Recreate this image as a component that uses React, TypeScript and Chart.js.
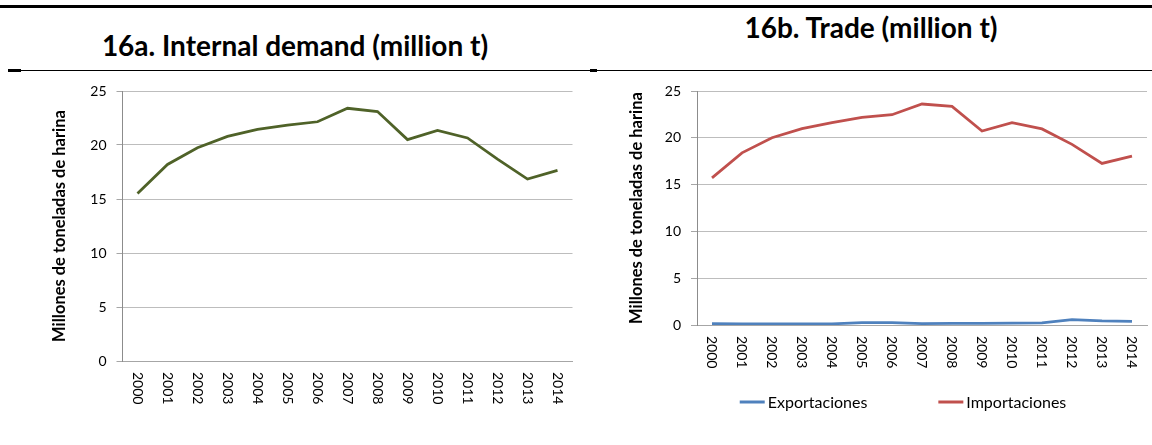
import React, { useEffect, useRef } from 'react';
import { Chart, registerables } from 'chart.js';

Chart.register(...registerables);

// ---------- data ----------
const years = ['2000', '2001', '2002', '2003', '2004', '2005', '2006', '2007', '2008', '2009', '2010', '2011', '2012', '2013', '2014'];
const internalDemand = [15.5, 18.2, 19.75, 20.8, 21.45, 21.85, 22.15, 23.4, 23.1, 20.5, 21.35, 20.65, 18.7, 16.85, 17.65];
const exportaciones = [0.15, 0.12, 0.13, 0.13, 0.12, 0.25, 0.25, 0.15, 0.18, 0.18, 0.2, 0.22, 0.57, 0.43, 0.4];
const importaciones = [15.72, 18.39, 20.0, 20.98, 21.62, 22.19, 22.47, 23.61, 23.36, 20.73, 21.62, 20.95, 19.3, 17.26, 18.05];
const yTicks = [0, 5, 10, 15, 20, 25];
const yAxisTitle = 'Millones de toneladas de harina';
const titleA = '16a. Internal demand (million t)';
const titleB = '16b. Trade (million t)';
const labelExport = 'Exportaciones';
const labelImport = 'Importaciones';

const FONT = 'Lato';

const rotatedXLabels = {
  id: 'rotatedXLabels',
  afterDraw(chart: any) {
    const xs = chart.scales.x;
    const ctx = chart.ctx;
    ctx.save();
    ctx.fillStyle = '#000';
    ctx.font = `14px ${FONT}`;
    ctx.textAlign = 'left';
    ctx.textBaseline = 'alphabetic';
    xs.ticks.forEach((t: any, i: number) => {
      const px = xs.getPixelForTick(i);
      ctx.save();
      ctx.translate(px, chart.chartArea.bottom + 11);
      ctx.rotate(Math.PI / 2);
      ctx.fillText(String(xs.getLabelForValue(t.value)), 0, 5);
      ctx.restore();
    });
    ctx.restore();
  },
};

const lineLegend = {
  id: 'lineLegend',
  afterDraw(chart: any, _args: any, opts: any) {
    if (!opts || !opts.show) return;
    const ctx = chart.ctx;
    ctx.save();
    ctx.font = `16px ${FONT}`;
    const items = chart.data.datasets.map((ds: any) => ({
      text: ds.label,
      color: ds.borderColor,
      w: ctx.measureText(ds.label).width,
    }));
    const lineLen = 25;
    const gap = 3;
    const itemGap = 71;
    const total = items.reduce((s: number, it: any) => s + lineLen + gap + it.w, 0) + itemGap * (items.length - 1);
    let x = opts.centerX - total / 2;
    const y = opts.y;
    items.forEach((it: any) => {
      ctx.strokeStyle = it.color;
      ctx.lineWidth = 3;
      ctx.beginPath();
      ctx.moveTo(x, y);
      ctx.lineTo(x + lineLen, y);
      ctx.stroke();
      ctx.fillStyle = '#000';
      ctx.textBaseline = 'middle';
      ctx.textAlign = 'left';
      ctx.fillText(it.text, x + lineLen + gap, y + 1);
      x += lineLen + gap + it.w + itemGap;
    });
    ctx.restore();
  },
};

function makeConfig(datasets: any[], pad: any, yWidth: number, legend: any) {
  return {
    type: 'line',
    data: { labels: years, datasets },
    plugins: [rotatedXLabels, lineLegend],
    options: {
      responsive: false,
      animation: false,
      layout: { padding: pad },
      elements: { point: { radius: 0 }, line: { tension: 0 } },
      plugins: {
        legend: { display: false },
        tooltip: { enabled: false },
        lineLegend: legend,
      },
      scales: {
        x: {
          type: 'category',
          offset: true,
          grid: { display: false },
          border: { display: true, color: '#A6A6A6', width: 1 },
          ticks: { display: false },
          afterFit: (s: any) => {
            s.height = 50;
            s.paddingLeft = 0;
            s.paddingRight = 0;
          },
        },
        y: {
          min: 0,
          max: 25,
          afterBuildTicks: (s: any) => { s.ticks = yTicks.map((v) => ({ value: v })); },
          grid: { color: '#BDBDBD', lineWidth: 1, tickLength: 6, tickColor: '#A6A6A6' },
          border: { display: true, color: '#8C8C8C', width: 1 },
          ticks: { font: { family: FONT, size: 14 }, color: '#000', padding: 10 },
          title: {
            display: true,
            text: yAxisTitle,
            font: { family: FONT, size: 16.5, weight: 'bold' },
            color: '#000',
            padding: { top: 4, bottom: 4 },
          },
          afterFit: (s: any) => {
            s.width = yWidth;
            s.paddingTop = 0;
            s.paddingBottom = 0;
          },
        },
      },
    },
  };
}

function ChartCanvas({ config, width, height }: { config: () => any; width: number; height: number }) {
  const ref = useRef<HTMLCanvasElement>(null);
  useEffect(() => {
    if (!ref.current) return;
    const chart = new Chart(ref.current, config());
    let alive = true;
    const fonts = (document as any).fonts;
    if (fonts && fonts.load) {
      Promise.all([
        fonts.load(`14px ${FONT}`),
        fonts.load(`16px ${FONT}`),
        fonts.load(`bold 16px ${FONT}`),
      ]).then(() => { if (alive) chart.update(); }).catch(() => {});
    }
    return () => { alive = false; chart.destroy(); };
  }, []);
  return <canvas ref={ref} width={width} height={height} style={{ width, height, display: 'block' }} />;
}

export default function App() {
  const leftConfig = () =>
    makeConfig(
      [
        {
          label: 'Internal demand',
          data: internalDemand,
          borderColor: '#4F6228',
          backgroundColor: '#4F6228',
          borderWidth: 2.75,
        },
      ],
      { left: 46, right: 12.5, top: 11, bottom: 34 },
      76.5,
      { show: false }
    );
  const rightConfig = () =>
    makeConfig(
      [
        {
          label: labelExport,
          data: exportaciones,
          borderColor: '#4F81BD',
          backgroundColor: '#4F81BD',
          borderWidth: 2.75,
        },
        {
          label: labelImport,
          data: importaciones,
          borderColor: '#C0504D',
          backgroundColor: '#C0504D',
          borderWidth: 2.75,
        },
      ],
      { left: 32.6, right: 5, top: 11, bottom: 70 },
      74.4,
      { show: true, centerX: 313, y: 322 }
    );

  const titleStyle: React.CSSProperties = {
    position: 'absolute',
    fontFamily: FONT,
    fontWeight: 'bold',
    fontSize: 28,
    lineHeight: '34px',
    textAlign: 'center',
    color: '#000',
    whiteSpace: 'nowrap',
  };

  return (
    <div style={{ position: 'fixed', left: 0, top: 0, width: 1152, height: 445, background: '#fff', overflow: 'hidden' }}>
      <div style={{ position: 'absolute', left: 0, top: 5, width: 1152, height: 3, background: '#000' }} />
      <div style={{ position: 'absolute', left: 8, top: 70, width: 1144, height: 1, background: '#000' }} />
      <div style={{ position: 'absolute', left: 8, top: 69, width: 13, height: 3, background: '#000' }} />
      <div style={{ position: 'absolute', left: 590, top: 69, width: 7, height: 3, background: '#000' }} />
      <div style={{ ...titleStyle, left: 0, top: 28, width: 590 }}>{titleA}</div>
      <div style={{ ...titleStyle, left: 590, top: 10, width: 562 }}>{titleB}</div>
      <div style={{ position: 'absolute', left: 0, top: 80 }}>
        <ChartCanvas config={leftConfig} width={585} height={365} />
      </div>
      <div style={{ position: 'absolute', left: 590, top: 80 }}>
        <ChartCanvas config={rightConfig} width={562} height={365} />
      </div>
    </div>
  );
}
